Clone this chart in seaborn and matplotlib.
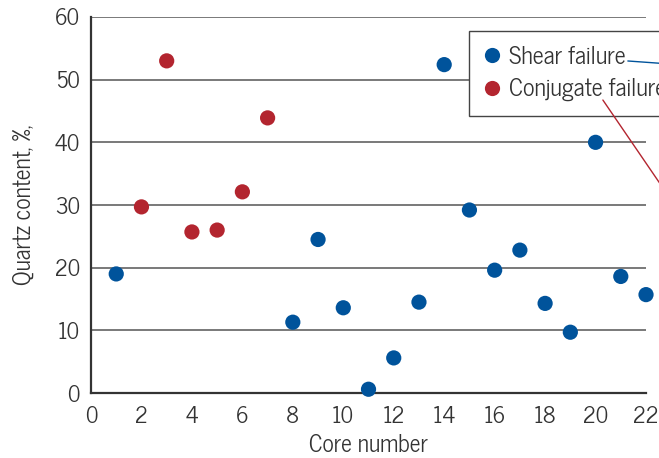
import pandas as pd
import seaborn as sns
import matplotlib.pyplot as plt

# Quartz content
shear_cores = [1, 8, 9, 10, 11, 12, 13, 14, 15, 16, 17, 18, 19, 20, 21, 22]
shear_quartz = [19.0, 11.3, 24.5, 13.6, 0.6, 5.6, 14.5, 52.4, 29.2, 19.6, 22.8, 14.3, 9.7, 40.0, 18.6, 15.7]
conj_cores = [2, 3, 4, 5, 6, 7]
conj_quartz = [29.7, 53.0, 25.7, 26.0, 32.1, 43.9]

x_ticks = list(range(0, 23, 2))
y_ticks = list(range(0, 61, 10))

blue = '#00539B'
red = '#B3252F'
ink = '#333333'

sns.set_style('white')
plt.rcParams['font.family'] = ['News Cycle', 'DejaVu Sans']
plt.rcParams['text.color'] = ink
plt.rcParams['axes.labelcolor'] = ink

df = pd.DataFrame({
    'core': shear_cores + conj_cores,
    'quartz': shear_quartz + conj_quartz,
    'type': ['Shear failure'] * len(shear_cores) + ['Conjugate failure'] * len(conj_cores),
})

fig = plt.figure(figsize=(6.59, 4.58), dpi=100)
ax = fig.add_axes([0.1381, 0.1419, 0.8422, 0.821])

sns.scatterplot(data=df, x='core', y='quartz', hue='type',
                palette={'Shear failure': blue, 'Conjugate failure': red},
                s=120, edgecolor='none', clip_on=False, zorder=5, ax=ax)

ax.set_xlim(0, 22)
ax.set_ylim(0, 60)
ax.set_xticks(x_ticks)
ax.set_yticks(y_ticks)
ax.tick_params(axis='both', labelsize=16, direction='out', length=7, width=1.4, colors=ink)
ax.tick_params(axis='x', pad=2)
ax.tick_params(axis='y', pad=1)

for y in y_ticks[1:]:
    ax.axhline(y, color='#555555', lw=1.1, zorder=1)

for side in ['top', 'right']:
    ax.spines[side].set_visible(False)
for side in ['left', 'bottom']:
    ax.spines[side].set_color(ink)
    ax.spines[side].set_linewidth(1.6)

ax.set_xlabel('Core number', fontsize=17, labelpad=5)
ax.set_ylabel('Quartz content, %,', fontsize=17, labelpad=13)

leg = ax.legend(loc='upper left', bbox_to_anchor=(0.681, 0.962), fontsize=17.5,
                frameon=True, fancybox=False, framealpha=1, edgecolor='#444444',
                handletextpad=0.35, borderpad=0.6, labelspacing=0.38,
                handlelength=0.7, borderaxespad=0, markerscale=1.0)
leg.get_frame().set_linewidth(1.0)
leg.set_zorder(10)

# leader lines running off to the right
ax.plot([21.28, 24.0], [52.98, 52.2], color=blue, lw=1, clip_on=False, zorder=11)
ax.plot([20.29, 24.0], [46.75, 24.9], color=red, lw=1, clip_on=False, zorder=11)

fig.savefig('out.png', dpi=100)
